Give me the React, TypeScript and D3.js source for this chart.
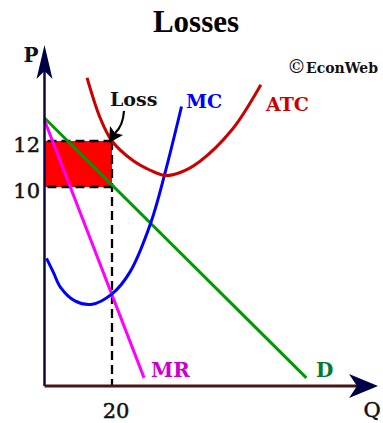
import React from "react";
import * as d3 from "d3";

// ---- data (Q = quantity, P = price) ----
const atcQ = [12.6, 16.5, 20, 26.2, 31.0, 35.6, 40.0, 45.9, 55.6, 64.1];
const atcP = [14.75, 13.0, 12.0, 11.15, 10.75, 10.5, 10.62, 11.1, 12.5, 14.45];
const mcQ = [0.6, 2.6, 4.7, 9.0, 14.1, 20.0, 25.3, 31.5, 35.6, 40.6];
const mcP = [6.9, 6.3, 5.65, 5.05, 4.9, 5.35, 6.3, 8.45, 10.55, 13.5];
const demandQ = [0, 77.6];
const demandP = [13.0, 1.7];
const mrQ = [0, 29.5];
const mrP = [12.9, 1.7];
const yTicks = [10, 12];
const xTicks = [20];
const lossPrice = 12;
const lossRevenue = 10;
const lossQty = 20;

const W = 383;
const H = 423;
const axisX0 = 44.5;
const axisY0 = 386;

export default function App() {
  const x = d3.scaleLinear().domain([0, 20]).range([axisX0, 112]);
  const y = d3.scaleLinear().domain([10, 12]).range([187, 141]);

  const toPts = (qs: number[], ps: number[]) => qs.map((q, i) => [q, ps[i]] as [number, number]);
  const smooth = d3
    .line<[number, number]>()
    .x((d) => x(d[0]))
    .y((d) => y(d[1]))
    .curve(d3.curveCatmullRom.alpha(0.5));
  const straight = d3
    .line<[number, number]>()
    .x((d) => x(d[0]))
    .y((d) => y(d[1]));

  const serif = "'DejaVu Serif', serif";
  const tip = { x: x(lossQty) - 3, y: y(lossPrice) + 2 };

  return (
    <svg width={W} height={H} style={{ position: "absolute", left: 0, top: 0, background: "#fff" }}>
      <text x={196} y={32} textAnchor="middle" fontFamily="'Liberation Serif', 'Times New Roman', serif" fontWeight="bold" fontSize={31}>
        Losses
      </text>

      {/* loss rectangle */}
      <rect x={x(0)} y={y(lossPrice)} width={x(lossQty) - x(0)} height={y(lossRevenue) - y(lossPrice)} fill="#ff0000" />

      {/* dashed guides */}
      <g stroke="#000" strokeWidth={2.3} strokeDasharray="9,5" fill="none">
        <line x1={x(0) + 3} x2={x(lossQty)} y1={y(lossPrice)} y2={y(lossPrice)} />
        <line x1={x(0) + 3} x2={x(lossQty)} y1={y(lossRevenue)} y2={y(lossRevenue)} />
        <line x1={x(lossQty)} x2={x(lossQty)} y1={y(lossPrice)} y2={axisY0} />
      </g>

      {/* curves */}
      <path d={straight(toPts(demandQ, demandP)) || ""} stroke="#009a00" strokeWidth={3} fill="none" />
      <path d={straight(toPts(mrQ, mrP)) || ""} stroke="#ff00ff" strokeWidth={3} fill="none" />
      <path d={smooth(toPts(mcQ, mcP)) || ""} stroke="#0000ff" strokeWidth={3} fill="none" />
      <path d={smooth(toPts(atcQ, atcP)) || ""} stroke="#cc0000" strokeWidth={3} fill="none" />

      {/* axes */}
      <line x1={axisX0} x2={axisX0} y1={axisY0} y2={60} stroke="#0a0a40" strokeWidth={2.5} />
      <line x1={axisX0} x2={362} y1={axisY0} y2={axisY0} stroke="#4a1414" strokeWidth={3} />
      <polygon points={`${axisX0},45 ${axisX0 + 8},79 ${axisX0},71 ${axisX0 - 8},79`} fill="#000046" />
      <polygon points={`378,${axisY0} 349,${axisY0 - 12} 357,${axisY0} 349,${axisY0 + 12}`} fill="#000046" />

      {/* loss arrow */}
      <path d={`M124,111 Q123,126 ${tip.x + 6},${tip.y - 10}`} stroke="#000" strokeWidth={2.2} fill="none" />
      <polygon points={`${tip.x},${tip.y} ${tip.x + 1},${tip.y - 17} ${tip.x + 6},${tip.y - 10} ${tip.x + 14},${tip.y - 8}`} fill="#000" />

      {/* tick labels */}
      {yTicks.map((t) => (
        <text key={t} x={40} y={y(t) + 11} textAnchor="end" fontFamily={serif} fontSize={21} fill="#111" stroke="#111" strokeWidth={0.5}>
          {t}
        </text>
      ))}
      {xTicks.map((t) => (
        <text key={t} x={x(t) + 4} y={418} textAnchor="middle" fontFamily={serif} fontSize={21} fill="#111" stroke="#111" strokeWidth={0.5}>
          {t}
        </text>
      ))}

      {/* axis titles */}
      <text x={31} y={62} textAnchor="middle" fontFamily={serif} fontWeight="bold" fontSize={20} fill="#111">P</text>
      <text x={372} y={417} textAnchor="middle" fontFamily={serif} fontSize={21} fill="#111" stroke="#111" strokeWidth={0.5}>Q</text>

      {/* curve labels */}
      <text x={110} y={106} fontFamily={serif} fontWeight="bold" fontSize={19} fill="#111">Loss</text>
      <text x={186} y={108} fontFamily={serif} fontWeight="bold" fontSize={19} fill="#0000ff">MC</text>
      <text x={266} y={111} fontFamily={serif} fontWeight="bold" fontSize={19} fill="#cc0000">ATC</text>
      <text x={151} y={377} fontFamily={serif} fontWeight="bold" fontSize={20} fill="#cc00cc">MR</text>
      <text x={316} y={377} fontFamily={serif} fontWeight="bold" fontSize={20} fill="#007a33">D</text>

      <text x={287} y={73} fontFamily={serif} fontWeight="bold" fontSize={14} fill="#111">
        <tspan fontSize={19} fontWeight="normal">©</tspan>EconWeb
      </text>
    </svg>
  );
}
